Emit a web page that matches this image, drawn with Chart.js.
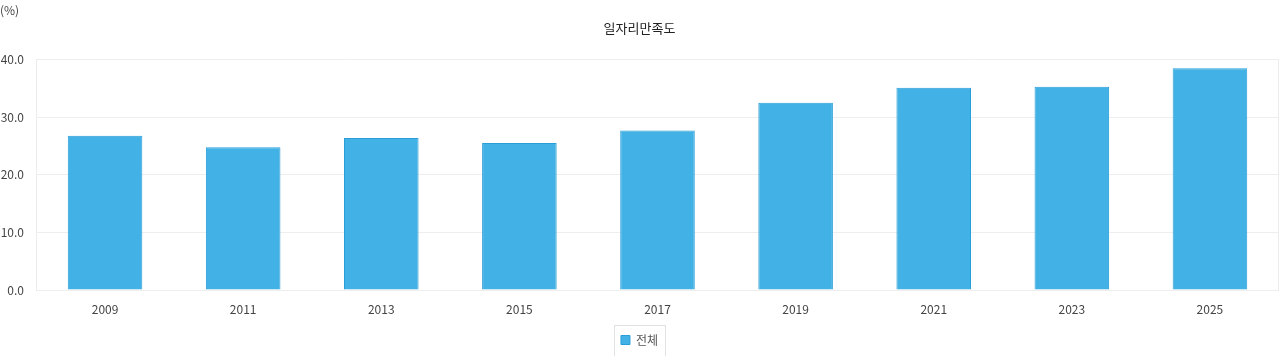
<!DOCTYPE html>
<html><head><meta charset="utf-8">
<script src="https://cdn.jsdelivr.net/npm/chart.js@4.4.1/dist/chart.umd.min.js"></script>
<style>html,body{margin:0;padding:0;background:#fff}#wrap{width:1280px;height:356px}</style>
</head><body><div id="wrap"><canvas id="c" width="1280" height="356"></canvas></div>
<script>
const categories = ['2009','2011','2013','2015','2017','2019','2021','2023','2025'];
const seriesName = '전체';
const values = [26.8, 24.8, 26.4, 25.5, 27.7, 32.5, 35.1, 35.3, 38.5];
const yTicks = [0, 10, 20, 30, 40];
const chartTitle = '일자리만족도';
const unitLabel = '(%)';

const FONT = "'Noto Sans CJK KR','Noto Sans',sans-serif";
Chart.defaults.font.family = FONT;
Chart.defaults.font.size = 12;
Chart.defaults.color = '#555';

const deco = {
  id: 'deco',
  afterDraw(chart) {
    const ctx = chart.ctx, ca = chart.chartArea;
    ctx.save();
    ctx.fillStyle = '#444';
    ctx.font = "12px " + FONT;
    ctx.textAlign = 'left';
    ctx.textBaseline = 'middle';
    ctx.fillText(unitLabel, 0, 10);
    ctx.strokeStyle = '#ececec';
    ctx.lineWidth = 1;
    ctx.beginPath();
    ctx.moveTo(Math.round(ca.right) - 0.5, ca.top);
    ctx.lineTo(Math.round(ca.right) - 0.5, ca.bottom);
    ctx.stroke();
    const hb = chart.legend.legendHitBoxes[0];
    if (hb) {
      ctx.strokeStyle = '#e2e2e2';
      ctx.strokeRect(Math.round(hb.left) - 6.5, 325.5, Math.round(hb.width) + 14, 31);
    }
    ctx.restore();
  }
};

new Chart(document.getElementById('c'), {
  type: 'bar',
  data: {
    labels: categories,
    datasets: [{
      label: seriesName,
      data: values,
      backgroundColor: '#42b1e5',
      borderColor: '#2a9ed8',
      borderWidth: 1,
      barPercentage: 0.54,
      categoryPercentage: 1
    }]
  },
  options: {
    responsive: false,
    animation: false,
    layout: { padding: { left: 0, right: 1, top: 0, bottom: 0 } },
    plugins: {
      title: {
        display: true, text: chartTitle, color: '#222',
        font: { size: 13, weight: 'normal' },
        padding: { top: 20, bottom: 24 }
      },
      legend: {
        position: 'bottom',
        labels: { boxWidth: 9, boxHeight: 9, padding: 10, color: '#555', font: { size: 12 } }
      },
      tooltip: { enabled: false }
    },
    scales: {
      x: {
        grid: { display: false, drawTicks: false },
        border: { display: false },
        ticks: { padding: 12, color: '#444' },
        afterFit(s) { s.height = 34; }
      },
      y: {
        min: 0, max: 40,
        afterBuildTicks(s) { s.ticks = yTicks.map(v => ({ value: v })); },
        grid: { color: '#eeeeee', drawTicks: false },
        border: { display: true, color: '#ececec' },
        ticks: { padding: 12, color: '#444', callback: v => Number(v).toFixed(1) },
        afterFit(s) { s.width = 36; }
      }
    }
  },
  plugins: [deco]
});
</script></body></html>
